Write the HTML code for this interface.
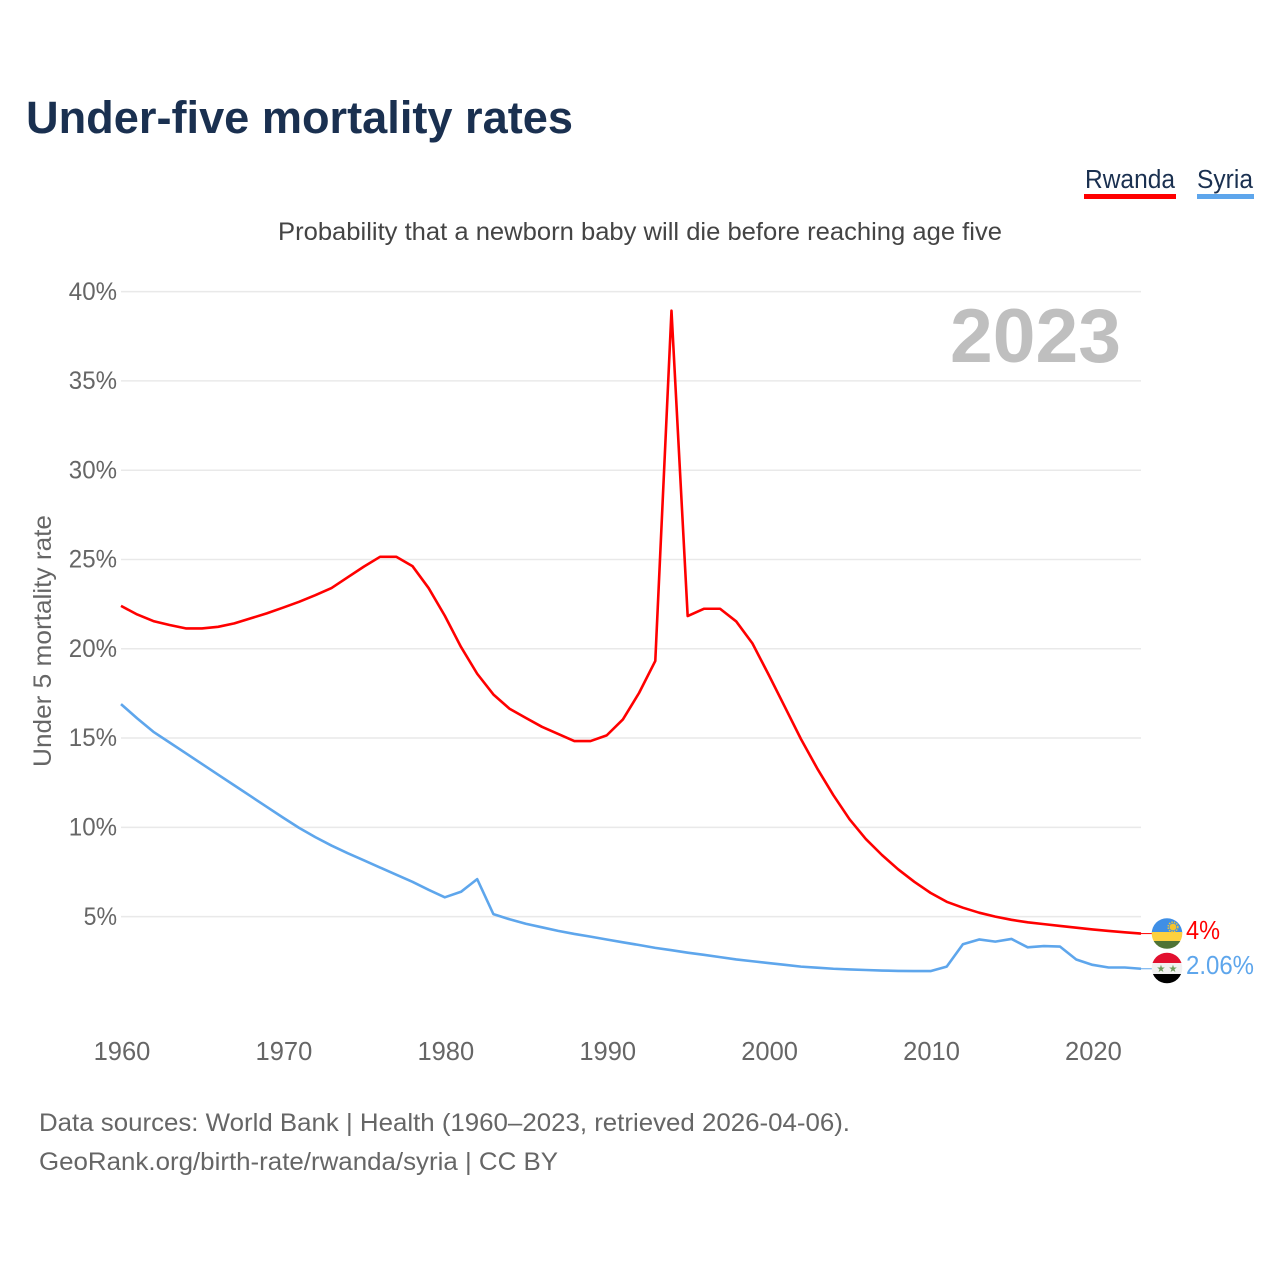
<!DOCTYPE html>
<html lang="en">
<head>
<meta charset="utf-8">
<title>Under-five mortality rates</title>
<style>
html,body{margin:0;padding:0;background:#fff;}
body{width:1280px;height:1280px;overflow:hidden;}
svg{display:block;font-family:"Liberation Sans",sans-serif;}
</style>
</head>
<body>
<svg id="chart" xmlns="http://www.w3.org/2000/svg" width="1280" height="1280" viewBox="0 0 1280 1280">
  <rect x="0" y="0" width="1280" height="1280" fill="#fff"/>
  <text x="26" y="133" font-size="45" font-weight="700" fill="#1a3050" textLength="547" lengthAdjust="spacingAndGlyphs">Under-five mortality rates</text>

  <g>
    <text x="1085" y="188" font-size="25.5" fill="#1a3050" textLength="90" lengthAdjust="spacingAndGlyphs">Rwanda</text>
    <rect x="1084" y="194" width="92" height="5" fill="#ff0000"/>
  </g>
  <g>
    <text x="1197" y="188" font-size="25.5" fill="#1a3050" textLength="56" lengthAdjust="spacingAndGlyphs">Syria</text>
    <rect x="1197" y="194" width="57" height="5" fill="#5ea6ec"/>
  </g>

  <text x="278" y="240" font-size="25" fill="#444444" textLength="724" lengthAdjust="spacingAndGlyphs">Probability that a newborn baby will die before reaching age five</text>

  <g id="grid"></g>
  <g id="yticks"></g>
  <g id="xticks"></g>

  <text transform="translate(51 641) rotate(-90)" text-anchor="middle" font-size="25" fill="#666666" textLength="252" lengthAdjust="spacingAndGlyphs">Under 5 mortality rate</text>

  <text x="950" y="362" font-size="76" font-weight="700" fill="#bfbfbf" textLength="171" lengthAdjust="spacingAndGlyphs">2023</text>

  <g id="series"></g>

  <g>
    <clipPath id="clip-rw"><circle cx="1167" cy="933.5" r="15.3"/></clipPath>
    <g clip-path="url(#clip-rw)">
      <rect x="1150" y="917" width="34" height="16" fill="#3f8fe6"/>
      <rect x="1150" y="932" width="34" height="9" fill="#fdd13f"/>
      <rect x="1150" y="941" width="34" height="10" fill="#4f7335"/>
    </g>
    <circle cx="1173" cy="927" r="3.4" fill="#f5c52f"/>
    <circle cx="1173" cy="927" r="4.8" fill="none" stroke="#f5c52f" stroke-width="1.6" stroke-dasharray="1.4 1.2"/>
  </g>
  <g>
    <clipPath id="clip-sy"><circle cx="1167" cy="968" r="15.3"/></clipPath>
    <g clip-path="url(#clip-sy)">
      <rect x="1150" y="952" width="34" height="11" fill="#e2102f"/>
      <rect x="1150" y="963" width="34" height="11" fill="#f1f1f1"/>
      <rect x="1150" y="974" width="34" height="11" fill="#000000"/>
    </g>
    <text x="1161" y="972" font-size="10" text-anchor="middle" fill="#6e9a5a" font-family="'DejaVu Sans',sans-serif">★</text>
    <text x="1173" y="972" font-size="10" text-anchor="middle" fill="#6e9a5a" font-family="'DejaVu Sans',sans-serif">★</text>
  </g>

  <text x="1186" y="939" font-size="25.5" fill="#ff0000" textLength="34" lengthAdjust="spacingAndGlyphs">4%</text>
  <text x="1186" y="974" font-size="25.5" fill="#5ea6ec" textLength="68" lengthAdjust="spacingAndGlyphs">2.06%</text>

  <text x="39" y="1131" font-size="25" fill="#666666" textLength="811" lengthAdjust="spacingAndGlyphs">Data sources: World Bank | Health (1960–2023, retrieved 2026-04-06).</text>
  <text x="39" y="1170" font-size="25" fill="#666666" textLength="519" lengthAdjust="spacingAndGlyphs">GeoRank.org/birth-rate/rwanda/syria | CC BY</text>
</svg>
<script>
const firstYear = 1960;
const lastYear = 2023;
const yTickValues = [5, 10, 15, 20, 25, 30, 35, 40];
const xTickValues = [1960, 1970, 1980, 1990, 2000, 2010, 2020];
const rwandaValues = [
  22.4, 21.92, 21.55, 21.33, 21.14, 21.14, 21.23, 21.42, 21.7, 21.98,
  22.3, 22.63, 23.0, 23.4, 24.0, 24.6, 25.15, 25.15, 24.63, 23.4,
  21.85, 20.1, 18.6, 17.44, 16.64, 16.13, 15.63, 15.23, 14.83, 14.83,
  15.15, 16.04, 17.53, 19.32, 38.93, 21.83, 22.24, 22.24, 21.53, 20.3,
  18.55, 16.75, 14.94, 13.3, 11.8, 10.45, 9.35, 8.45, 7.65, 6.95,
  6.33, 5.83, 5.5, 5.22, 5.0, 4.82, 4.68, 4.58, 4.48, 4.38,
  4.28, 4.2, 4.12, 4.05
];
const syriaValues = [
  16.9, 16.1, 15.35, 14.75, 14.15, 13.55, 12.95, 12.35, 11.75, 11.15,
  10.55, 9.97, 9.45, 8.98, 8.55, 8.15, 7.75, 7.35, 6.95, 6.5,
  6.08, 6.39, 7.1, 5.14, 4.85, 4.6, 4.4, 4.2, 4.03, 3.88,
  3.72, 3.56, 3.41, 3.25, 3.12, 2.98, 2.86, 2.73, 2.6, 2.5,
  2.4, 2.3, 2.2, 2.14, 2.08, 2.04, 2.01, 1.98, 1.96, 1.95,
  1.95, 2.2, 3.45, 3.72, 3.6, 3.75, 3.28, 3.35, 3.32, 2.6,
  2.3, 2.15, 2.15, 2.08
];

const NS = 'http://www.w3.org/2000/svg';
const plotLeft = 121;
const plotRight = 1141;
function xScale(year) {
  return plotLeft + (year - firstYear) * (plotRight - plotLeft) / (lastYear - firstYear);
}
function yScale(pct) {
  return 1005.9 - pct * 17.857;
}
function svgEl(tag) {
  return document.createElementNS(NS, tag);
}

const grid = document.getElementById('grid');
const yticks = document.getElementById('yticks');
yTickValues.forEach(function (v) {
  const line = svgEl('line');
  
  
  line.setAttribute('x1', plotLeft);
  line.setAttribute('x2', plotRight);
  line.setAttribute('y1', yScale(v));
  line.setAttribute('y2', yScale(v));
  line.setAttribute('stroke', '#e9e9e9');
  line.setAttribute('stroke-width', '1.5');
  grid.appendChild(line);

  const label = svgEl('text');
  
  
  const txt = v + '%';
  const w = 14.8 * String(v).length + 18.6;
  label.setAttribute('x', 117 - w);
  label.setAttribute('y', yScale(v) + 8.2);
  label.setAttribute('font-size', '25');
  label.setAttribute('fill', '#666666');
  label.setAttribute('textLength', w);
  label.setAttribute('lengthAdjust', 'spacingAndGlyphs');
  label.textContent = txt;
  yticks.appendChild(label);
});

const xticks = document.getElementById('xticks');
xTickValues.forEach(function (yr) {
  const label = svgEl('text');
  
  
  label.setAttribute('x', xScale(yr) + 1);
  label.setAttribute('y', 1060);
  label.setAttribute('font-size', '25.5');
  label.setAttribute('fill', '#666666');
  label.setAttribute('text-anchor', 'middle');
  label.textContent = yr;
  xticks.appendChild(label);
});

const seriesGroup = document.getElementById('series');
function drawSeries(values, color, name) {
  const pts = values.map(function (v, i) {
    return xScale(firstYear + i).toFixed(2) + ',' + yScale(v).toFixed(2);
  });
  const path = svgEl('polyline');
  
  
  path.setAttribute('points', pts.join(' '));
  path.setAttribute('fill', 'none');
  path.setAttribute('stroke', color);
  path.setAttribute('stroke-width', '2.6');
  path.setAttribute('stroke-linejoin', 'round');
  seriesGroup.appendChild(path);

  const last = values[values.length - 1];
  const conn = svgEl('line');
  
  
  conn.setAttribute('x1', plotRight);
  conn.setAttribute('x2', plotRight + 11);
  conn.setAttribute('y1', yScale(last));
  conn.setAttribute('y2', yScale(last));
  conn.setAttribute('stroke', color);
  conn.setAttribute('stroke-width', '1');
  seriesGroup.appendChild(conn);
}
drawSeries(syriaValues, '#5ea6ec', 'syria');
drawSeries(rwandaValues, '#ff0000', 'rwanda');
</script>
</body>
</html>
